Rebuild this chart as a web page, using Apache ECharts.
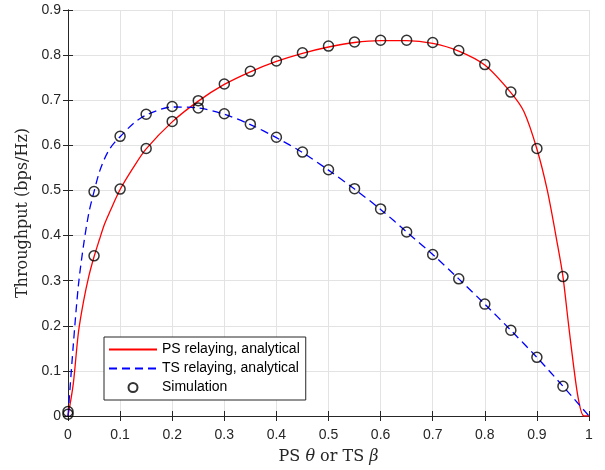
<!DOCTYPE html>
<html>
<head>
<meta charset="utf-8">
<script src="https://cdn.jsdelivr.net/npm/echarts@6/dist/echarts.min.js"></script>
<style>html,body{margin:0;padding:0;background:#fff}#c{width:605px;height:470px}</style>
</head>
<body>
<div id="c"></div>
<script>
// Simulation points
var simX = [0, 0.05, 0.1, 0.15, 0.2, 0.25, 0.3, 0.35, 0.4, 0.45, 0.5, 0.55, 0.6, 0.65, 0.7, 0.75, 0.8, 0.85, 0.9, 0.95];
var psSim = [0.004, 0.355, 0.503, 0.593, 0.653, 0.699, 0.736, 0.764, 0.787, 0.805, 0.820, 0.829, 0.833, 0.833, 0.828, 0.810, 0.779, 0.718, 0.593, 0.309];
var tsSim = [0.010, 0.4975, 0.620, 0.669, 0.686, 0.683, 0.670, 0.647, 0.618, 0.585, 0.546, 0.504, 0.459, 0.408, 0.358, 0.304, 0.248, 0.190, 0.130, 0.066];

// Analytical curves
var psX = [0, 0.01, 0.02, 0.03, 0.04, 0.05, 0.06, 0.07, 0.08, 0.1, 0.125, 0.15, 0.2, 0.25, 0.3, 0.35, 0.4, 0.45, 0.5, 0.55, 0.6, 0.65, 0.7, 0.75, 0.8, 0.85, 0.875, 0.9, 0.92, 0.94, 0.95, 0.96, 0.97, 0.98, 0.99, 1.0];
var psY = [0, 0.07, 0.185, 0.255, 0.31, 0.353, 0.39, 0.425, 0.452, 0.502, 0.55, 0.592, 0.652, 0.698, 0.735, 0.763, 0.786, 0.804, 0.818, 0.828, 0.832, 0.832, 0.826, 0.809, 0.778, 0.717, 0.675, 0.592, 0.50, 0.377, 0.309, 0.21, 0.115, 0.035, 0, 0];
var tsX = [0, 0.01, 0.02, 0.03, 0.04, 0.05, 0.06, 0.07, 0.08, 0.09, 0.1, 0.125, 0.15, 0.2, 0.25, 0.3, 0.35, 0.4, 0.45, 0.5, 0.55, 0.6, 0.65, 0.7, 0.75, 0.8, 0.85, 0.9, 0.95, 1.0];
var tsY = [0, 0.155, 0.29, 0.38, 0.45, 0.4975, 0.54, 0.57, 0.592, 0.607, 0.619, 0.648, 0.667, 0.685, 0.683, 0.669, 0.646, 0.617, 0.584, 0.545, 0.503, 0.458, 0.408, 0.358, 0.304, 0.248, 0.19, 0.13, 0.066, 0.0];

var xTicks = ['0', '0.1', '0.2', '0.3', '0.4', '0.5', '0.6', '0.7', '0.8', '0.9', '1'];
var yTicks = ['0', '0.1', '0.2', '0.3', '0.4', '0.5', '0.6', '0.7', '0.8', '0.9'];

function zip(a, b) { return a.map(function (v, i) { return [v, b[i]]; }); }

var axisCol = '#262626';
var sans = 'Liberation Sans, Arial, Helvetica, sans-serif';
var serif = 'DejaVu Serif, Liberation Serif, serif';

var chart = echarts.init(document.getElementById('c'));
var simStyle = { color: 'rgba(0,0,0,0)', borderColor: '#000', borderWidth: 1.5 };
chart.setOption({
  animation: false,
  backgroundColor: '#fff',
  grid: { left: 68, right: 16, top: 10, bottom: 50, containLabel: false },
  legend: {
    orient: 'vertical', left: 104, top: 337,
    data: [
      { name: 'PS relaying, analytical', itemStyle: { opacity: 0 } },
      { name: 'TS relaying, analytical', itemStyle: { opacity: 0 } },
      { name: 'Simulation' }
    ],
    itemWidth: 48, itemHeight: 9, itemGap: 4,
    padding: [5, 6, 5, 4],
    borderColor: axisCol, borderWidth: 1, backgroundColor: '#fff',
    textStyle: { fontFamily: sans, fontSize: 14, color: '#000', lineHeight: 15 }
  },
  xAxis: [{
    type: 'value', min: 0, max: 1, interval: 0.1,
    name: '{a|PS }{i|θ}{a| or TS }{i|β}', nameLocation: 'middle', nameGap: 33,
    nameTextStyle: { rich: {
      a: { fontFamily: serif, fontSize: 16, color: axisCol },
      i: { fontFamily: serif, fontSize: 16, fontStyle: 'italic', color: axisCol }
    } },
    axisLine: { show: true, lineStyle: { color: axisCol, width: 1 } },
    axisTick: { show: true, inside: true, length: 5, lineStyle: { color: axisCol } },
    axisLabel: { fontFamily: sans, fontSize: 14, color: axisCol, margin: 12,
      formatter: function (v) { return xTicks[Math.round(v * 10)]; } },
    splitLine: { show: true, lineStyle: { color: '#e3e3e3', width: 1 } }
  }, {
    type: 'value', min: 0, max: 1, interval: 0.1, position: 'top',
    axisLine: { show: true, lineStyle: { color: axisCol, width: 1 } },
    axisTick: { show: true, inside: true, length: 5, lineStyle: { color: axisCol } },
    axisLabel: { show: false }, splitLine: { show: false }
  }],
  yAxis: [{
    type: 'value', min: 0, max: 0.9, interval: 0.1,
    name: 'Throughput (bps/Hz)', nameLocation: 'middle', nameGap: 36,
    nameTextStyle: { fontFamily: serif, fontSize: 16, color: axisCol },
    axisLine: { show: true, lineStyle: { color: axisCol, width: 1 } },
    axisTick: { show: true, inside: true, length: 5, lineStyle: { color: axisCol } },
    axisLabel: { fontFamily: sans, fontSize: 14, color: axisCol, margin: 7,
      formatter: function (v) { return yTicks[Math.round(v * 10)]; } },
    splitLine: { show: true, lineStyle: { color: '#e3e3e3', width: 1 } }
  }, {
    type: 'value', min: 0, max: 0.9, interval: 0.1, position: 'right',
    axisLine: { show: true, lineStyle: { color: axisCol, width: 1 } },
    axisTick: { show: true, inside: true, length: 5, lineStyle: { color: axisCol } },
    axisLabel: { show: false }, splitLine: { show: false }
  }],
  series: [{
    name: 'PS relaying, analytical', type: 'line', data: zip(psX, psY),
    smooth: 0.3, symbol: 'none', showSymbol: false,
    lineStyle: { color: '#ff0000', width: 1.3 }, itemStyle: { color: '#ff0000' }, z: 3
  }, {
    name: 'TS relaying, analytical', type: 'line', data: zip(tsX, tsY),
    smooth: 0.3, symbol: 'none', showSymbol: false,
    lineStyle: { color: '#0000ff', width: 1.3, type: [8, 5] }, itemStyle: { color: '#0000ff' }, z: 3
  }, {
    name: 'Simulation', type: 'scatter', data: zip(simX, psSim),
    symbol: 'circle', symbolSize: 10, itemStyle: simStyle, z: 4
  }, {
    name: 'Simulation', type: 'scatter', data: zip(simX, tsSim),
    symbol: 'circle', symbolSize: 10, itemStyle: simStyle, z: 4
  }]
});
</script>
</body>
</html>
